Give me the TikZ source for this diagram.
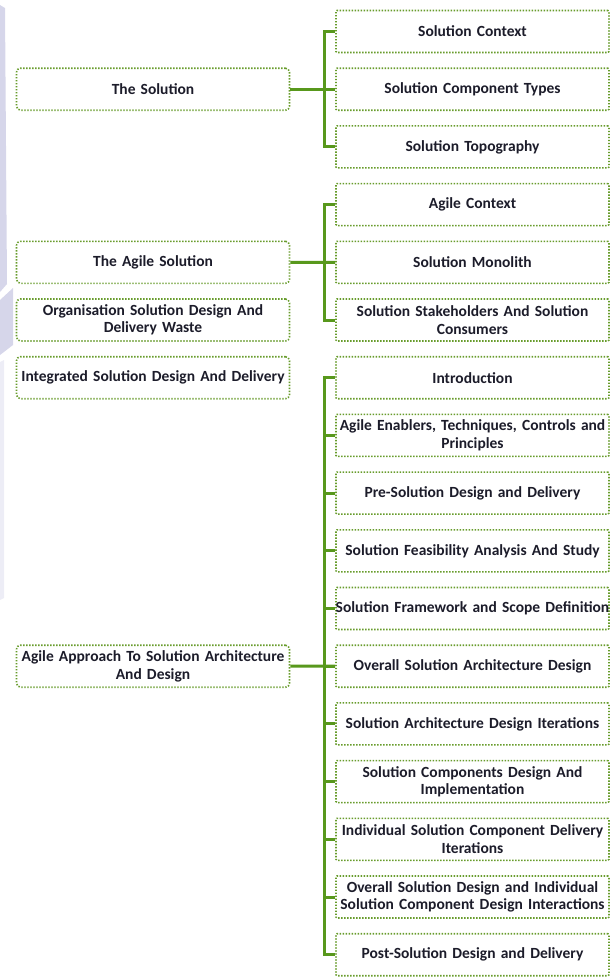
\documentclass[tikz,border=0pt]{standalone}
\usepackage{fontspec}
\setmainfont{Carlito}
\definecolor{dotgreen}{RGB}{104,156,44}
\definecolor{brkgreen}{RGB}{88,152,28}
\definecolor{inkdark}{RGB}{28,28,42}
\definecolor{lavender}{RGB}{214,214,234}
\tikzset{
  box/.style={draw=dotgreen, line width=1.6pt, dash pattern=on 1.4pt off 1.6pt,
    fill=white, minimum width=273pt, minimum height=42pt, text width=268pt,
    align=center, inner sep=0pt, text=inkdark,
    font=\fontsize{15.5}{17.5}\selectfont\bfseries},
  lbox/.style={box, rounded corners=4pt},
  rbox/.style={box, rounded corners=1pt},
  brk/.style={draw=brkgreen, line width=3pt, line join=miter, line cap=butt}
}
\begin{document}
\begin{tikzpicture}[x=1pt, y=-1pt]
\useasboundingbox (0,0) rectangle (612,978);
% faint background band along the left edge
\fill[lavender] (0,5) -- (5,8) -- (7,284) -- (0,292) -- cycle;
\fill[lavender] (0,300) -- (13,288) -- (13,345) -- (0,355) -- cycle;
\fill[lavender!45] (0,362) -- (4,360) -- (4,598) -- (0,600) -- cycle;

% topic boxes on the left
\node[lbox] (l0) at (153, 89.2) {The Solution};
\node[lbox] (l1) at (153, 262.3) {The Agile Solution};
\node[lbox] (l2) at (153, 320.0) {Organisation Solution Design And\\Delivery Waste};
\node[lbox] (l3) at (153, 377.7) {Integrated Solution Design And Delivery};
\node[lbox] (l4) at (153, 666.2) {Agile Approach To Solution Architecture\\And Design};

% sub-topic boxes on the right
\foreach \i/\t in {
  0/{Solution Context},
  1/{Solution Component Types},
  2/{Solution Topography},
  3/{Agile Context},
  4/{Solution Monolith},
  5/{Solution Stakeholders And Solution\\Consumers},
  6/{Introduction},
  7/{Agile Enablers, Techniques, Controls and\\Principles},
  8/{Pre-Solution Design and Delivery},
  9/{Solution Feasibility Analysis And Study},
  10/{\hbox to 0pt{\hss Solution Framework and Scope Definition\hss}},
  11/{Overall Solution Architecture Design},
  12/{Solution Architecture Design Iterations},
  13/{Solution Components Design And\\Implementation},
  14/{Individual Solution Component Delivery\\Iterations},
  15/{Overall Solution Design and Individual\\Solution Component Design Interactions},
  16/{Post-Solution Design and Delivery}}
  \node[rbox] (r\i) at (472.5, 31.5+57.7*\i) {\t};

% bracket connectors
\draw[brk] (l0.east) -- (r1.west);
\draw[brk] (r0.west) -- ++(-11,0) |- (r2.west);

\draw[brk] (l1.east) -- (r4.west);
\draw[brk] (r3.west) -- ++(-11,0) |- (r5.west);

\draw[brk] (l4.east) -- (r11.west);
\draw[brk] (r6.west) -- ++(-11,0) |- (r16.west);
\foreach \i in {7,...,15}
  \draw[brk] (r\i.west) -- ++(-11,0);
\end{tikzpicture}
\end{document}
